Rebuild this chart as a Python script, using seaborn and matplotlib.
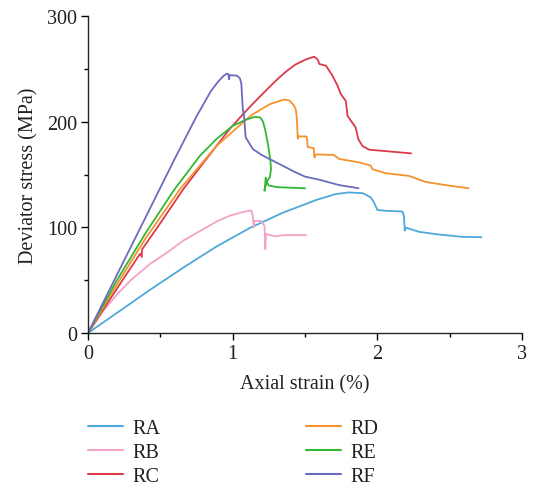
import matplotlib
matplotlib.use("Agg")
import matplotlib.pyplot as plt
from matplotlib.ticker import MultipleLocator
import numpy as np
import pandas as pd
import seaborn as sns

# Stress-strain curves for six rock specimens (axial strain in %, deviator stress in MPa)
ra_strain = [0, 0.2, 0.43, 0.66, 0.89, 1.12, 1.35, 1.58, 1.71, 1.80, 1.90, 1.955, 1.977, 2.0, 2.058,
             2.172, 2.184, 2.19, 2.195, 2.287, 2.40, 2.585, 2.72]
ra_stress = [0, 19, 41, 62, 82, 99.5, 114, 126, 131.4, 133, 132.3, 128.3, 123.5, 116.5, 115.6,
             115, 111, 96.8, 99.8, 95.8, 93.6, 91, 90.7]

rb_strain = [0, 0.1, 0.2, 0.3, 0.43, 0.55, 0.66, 0.78, 0.89, 0.98, 1.07, 1.129, 1.14, 1.145, 1.151,
             1.197, 1.22, 1.226, 1.23, 1.30, 1.346, 1.507]
rb_stress = [0, 20, 36.5, 50.5, 65.5, 76.5, 87.5, 97, 105.5, 111, 114.5, 116, 110, 100, 106,
             106, 101.4, 79.4, 93.6, 91.4, 92.6, 92.6]

rc_strain = [0, 0.2, 0.36, 0.372, 0.373, 0.5, 0.658, 0.82, 0.979, 1.071, 1.14, 1.255, 1.312, 1.37,
             1.433, 1.50, 1.53, 1.562, 1.587, 1.60, 1.645, 1.69, 1.725, 1.748, 1.782, 1.794, 1.85,
             1.869, 1.897, 1.943, 2.10, 2.15, 2.234]
rc_stress = [0, 42, 75, 72, 79, 104, 136, 165, 193, 207, 217, 233, 240.5, 247.5,
             254, 258.5, 260, 261.5, 259, 254.5, 253, 243.5, 234, 226, 219.6, 205.5, 194.5,
             183.4, 177, 173.5, 171.6, 171, 170]

rd_strain = [0, 0.2, 0.4, 0.635, 0.888, 1.094, 1.14, 1.255, 1.312, 1.358, 1.392, 1.42, 1.435, 1.443,
             1.45, 1.452, 1.51, 1.515, 1.518, 1.56, 1.565, 1.576, 1.70, 1.736, 1.874, 1.955, 1.966,
             2.058, 2.218, 2.333, 2.47, 2.63]
rd_stress = [0, 46, 90, 136, 177, 202, 207, 216.5, 219, 221, 220, 216, 212, 205,
             184, 186, 186, 183, 176, 175, 166, 169, 168.5, 164.7, 161.5, 158.4, 155,
             151.2, 148.7, 143, 140, 137]

re_strain = [0, 0.2, 0.4, 0.598, 0.773, 0.888, 1.0, 1.094, 1.152, 1.19, 1.21, 1.225, 1.245, 1.26,
             1.265, 1.258, 1.24, 1.225, 1.22, 1.225, 1.228, 1.235, 1.25, 1.31, 1.40, 1.50]
re_stress = [0, 50, 95, 136, 167.6, 183.6, 196, 202, 204.5, 204, 200, 192, 178, 164,
             155, 148, 144, 138, 134.5, 141, 147, 143, 139.5, 138, 137.5, 137]

rf_strain = [0, 0.2, 0.4, 0.6, 0.75, 0.85, 0.9, 0.935, 0.959, 0.97, 0.975, 0.98, 1.03, 1.05, 1.06,
             1.07, 1.079, 1.09, 1.10, 1.14, 1.20, 1.30, 1.435, 1.50, 1.60, 1.736, 1.87]
rf_stress = [0, 55, 110, 165, 205, 229, 238, 243, 245.5, 245, 240, 244, 243.5, 241, 236,
             212, 205, 185, 183, 174, 168.5, 161.5, 152, 148, 145, 140, 137]

specimens = ["RA", "RB", "RC", "RD", "RE", "RF"]
colors = ["#4DA9DB", "#F2A3C7", "#DC3A4A", "#F5922F", "#33B833", "#6B6BC0"]
strains = [ra_strain, rb_strain, rc_strain, rd_strain, re_strain, rf_strain]
stresses = [ra_stress, rb_stress, rc_stress, rd_stress, re_stress, rf_stress]

frames = []
for name, xs, ys in zip(specimens, strains, stresses):
    frames.append(pd.DataFrame({"strain": xs, "stress": ys, "specimen": name,
                                "order": np.arange(len(xs))}))
df = pd.concat(frames, ignore_index=True)

sns.set_style("ticks")
plt.rcParams["font.family"] = ["Liberation Serif", "DejaVu Serif"]
plt.rcParams["axes.linewidth"] = 1.0

FS = 14.5
TEXT = "#231F20"

fig = plt.figure(figsize=(5.35, 4.89), dpi=100)
ax = fig.add_axes([88 / 535, 1 - 334 / 489, (522 - 88) / 535, (334 - 17) / 489])

sns.lineplot(data=df, x="strain", y="stress", hue="specimen", hue_order=specimens,
             palette=colors, sort=False, estimator=None, units="specimen",
             linewidth=1.3, ax=ax, legend=False)

ax.set_xlim(0, 3)
ax.set_ylim(0, 300)
ax.xaxis.set_major_locator(MultipleLocator(1))
ax.xaxis.set_minor_locator(MultipleLocator(0.5))
ax.yaxis.set_major_locator(MultipleLocator(100))
ax.yaxis.set_minor_locator(MultipleLocator(50))
ax.tick_params(which="major", direction="out", length=5, width=1.0, labelsize=FS,
               color="black", labelcolor=TEXT, pad=3)
ax.tick_params(which="minor", direction="out", length=3, width=1.0, color="black")
sns.despine(ax=ax)
ax.margins(0)

ax.set_xlabel("Axial strain (%)", fontsize=FS, color=TEXT, labelpad=8)
ax.set_ylabel("Deviator stress (MPa)", fontsize=FS, color=TEXT, labelpad=6)

handles = [plt.Line2D([], [], color=c, lw=1.5) for c in colors]
fig.legend(handles, specimens, ncol=2, loc="upper left",
           bbox_to_anchor=(88 / 535, 1 - 420 / 489), frameon=False,
           fontsize=FS, handlelength=1.75, handletextpad=0.47,
           columnspacing=7.2, labelspacing=0.25, borderpad=0, borderaxespad=0,
           labelcolor=TEXT)

fig.savefig("out.png", dpi=100)
